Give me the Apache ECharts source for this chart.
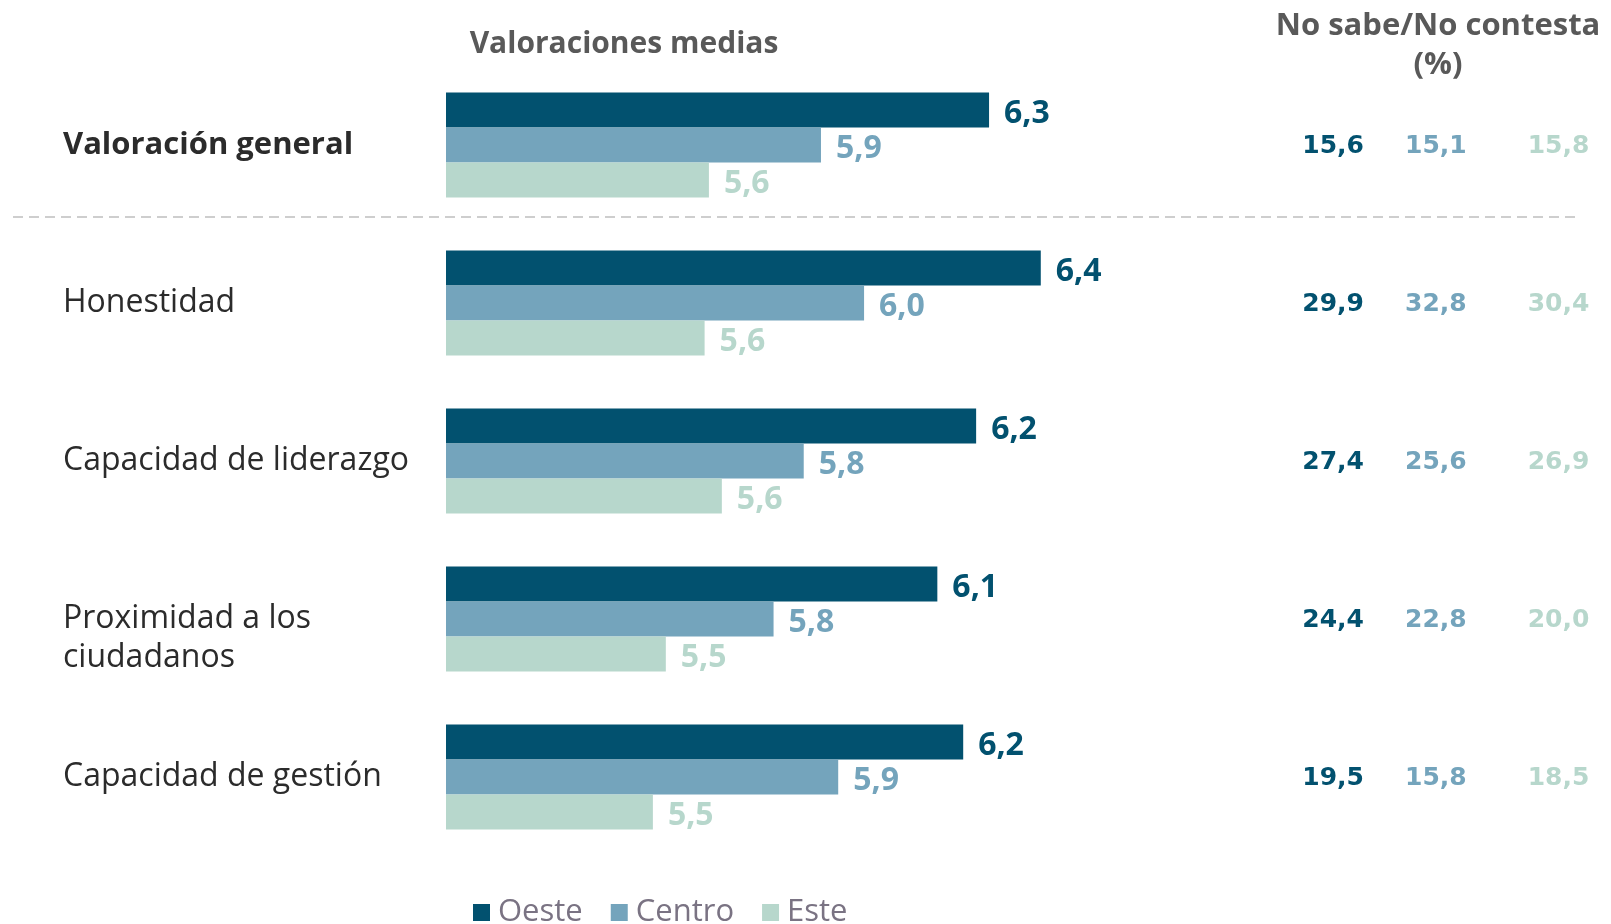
<!DOCTYPE html>
<html>
<head>
<meta charset="utf-8">
<script src="https://cdn.jsdelivr.net/npm/echarts@6/dist/echarts.min.js"></script>
<style>
  html, body { margin: 0; padding: 0; background: #fff; }
  #chart { width: 1611px; height: 924px; }
</style>
</head>
<body>
<div id="chart"></div>
<script>
// categories (top to bottom)
const categories = ['Valoración general', 'Honestidad', 'Capacidad de liderazgo', 'Proximidad a los\nciudadanos', 'Capacidad de gestión'];
const seriesNames = ['Oeste', 'Centro', 'Este'];

// mean ratings (labels shown with 1 decimal)
const oeste = [6.26, 6.38, 6.23, 6.14, 6.20];
const centro = [5.87, 5.97, 5.83, 5.76, 5.91];
const este = [5.61, 5.60, 5.64, 5.51, 5.48];

// No sabe / No contesta (%)
const nsncOeste = [15.6, 29.9, 27.4, 24.4, 19.5];
const nsncCentro = [15.1, 32.8, 25.6, 22.8, 15.8];
const nsncEste = [15.8, 30.4, 26.9, 20.0, 18.5];

const colors = ['#02516f', '#74a4bc', '#b7d7cc'];
const FONT = '"Open Sans", sans-serif';

const fmt = v => v.toFixed(1).replace('.', ',');

const chart = echarts.init(document.getElementById('chart'));

const barSeries = [oeste, centro, este].map((vals, i) => ({
    name: seriesNames[i],
    type: 'bar',
    xAxisIndex: 0,
    yAxisIndex: 0,
    data: vals,
    barWidth: 35,
    barGap: '0%',
    itemStyle: { color: colors[i] },
    label: {
        show: true,
        position: 'right',
        distance: 15,
        offset: [0, 4],
        formatter: p => fmt(p.value),
        color: colors[i],
        fontFamily: FONT,
        fontWeight: 'bold',
        fontSize: 32
    }
}));

// the NS/NC columns, one scatter per region, drawn as labels only
const nsncSeries = [nsncOeste, nsncCentro, nsncEste].map((vals, i) => ({
    name: 'NS/NC ' + seriesNames[i],
    type: 'scatter',
    xAxisIndex: 1,
    yAxisIndex: 1,
    symbolSize: 0,
    itemStyle: { color: colors[i], opacity: 1 },
    data: vals.map((v, j) => [seriesNames[i], categories[j], v]),
    label: {
        show: true,
        position: 'inside',
        align: 'left',
        offset: i === 1 ? [-10, 1] : [0, 1],
        formatter: p => fmt(p.value[2]),
        color: colors[i],
        opacity: 1,
        fontFamily: '"DejaVu Sans", sans-serif',
        fontWeight: 'bold',
        fontSize: 25
    }
}));

const options = {
    animation: false,
    grid: [
        { left: 446, right: 303, top: 66, height: 790, outerBoundsMode: 'none', containLabel: false },
        { left: 1246, width: 338, top: 66, height: 790, outerBoundsMode: 'none', containLabel: false }
    ],
    xAxis: [
        { type: 'value', gridIndex: 0, min: 5, max: 7, show: false },
        { type: 'category', gridIndex: 1, data: seriesNames, show: false }
    ],
    yAxis: [
        {
            type: 'category',
            gridIndex: 0,
            inverse: true,
            data: categories.map((c, i) => {
                if (i === 0) return { value: c, textStyle: { fontWeight: 'bold', fontSize: 31, align: 'left' } };
                return c;
            }),
            axisLine: { show: false },
            axisTick: { show: false },
            splitLine: { show: false },
            axisLabel: {
                margin: 383,
                align: 'left',
                color: '#2b2b2b',
                fontFamily: FONT,
                fontSize: 32,
                lineHeight: 39,
                // two-line labels start on the bar centre line
                formatter: v => (v.indexOf('\n') >= 0 ? '\n' + v : v)
            }
        },
        { type: 'category', gridIndex: 1, inverse: true, data: categories, show: false }
    ],
    legend: {
        data: seriesNames,
        left: 473,
        top: 897,
        padding: 0,
        icon: 'rect',
        itemWidth: 17,
        itemHeight: 17,
        itemGap: 28,
        textStyle: {
            color: '#7a7383',
            fontFamily: FONT,
            fontSize: 31,
            padding: [0, 0, 0, 3]
        }
    },
    graphic: [
        {
            type: 'text',
            x: 624,
            y: 44,
            style: {
                text: 'Valoraciones medias',
                align: 'center',
                verticalAlign: 'middle',
                fill: '#595959',
                font: 'bold 30px "Open Sans", sans-serif'
            }
        },
        {
            type: 'text',
            x: 1438,
            y: 7,
            style: {
                text: 'No sabe/No contesta\n(%)',
                align: 'center',
                verticalAlign: 'top',
                lineHeight: 39,
                fill: '#595959',
                font: 'bold 31px "Open Sans", sans-serif'
            }
        },
        {
            type: 'line',
            shape: { x1: 13, y1: 217, x2: 1577, y2: 217 },
            style: { stroke: '#bfbfbf', lineWidth: 1.5, lineDash: [10, 6] }
        }
    ],
    series: barSeries.concat(nsncSeries)
};

chart.setOption(options);
</script>
</body>
</html>
